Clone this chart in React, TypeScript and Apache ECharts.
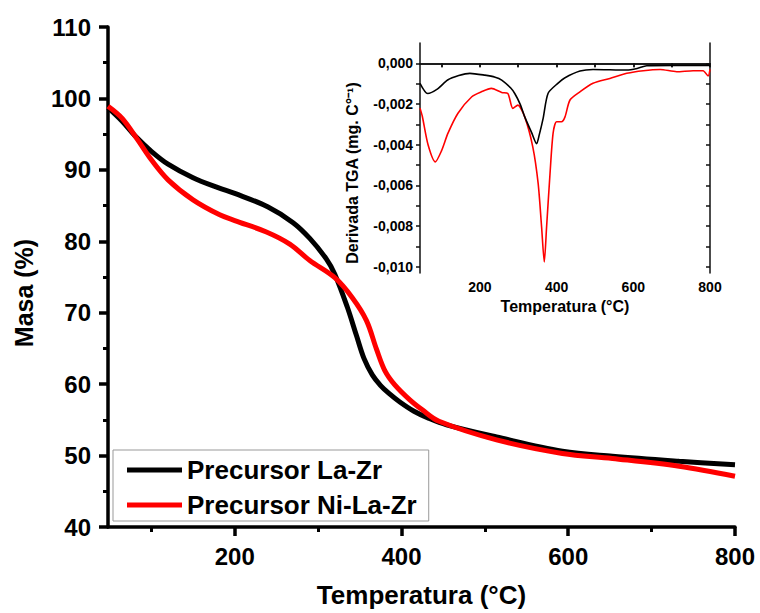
import React, { useEffect, useRef } from "react";
import * as echarts from "echarts";

// Main TGA curves
const laZrTemp = [48, 65, 80, 100, 120, 150, 180, 200, 240, 270, 290, 310, 320, 335, 346, 355, 365, 375, 385, 398, 415, 433, 454, 514, 593, 653, 733, 800];
const laZrMass = [98.7, 96.8, 94.8, 92.6, 90.8, 88.9, 87.5, 86.7, 84.8, 82.6, 80.4, 77.5, 75.4, 70.8, 66.8, 63.6, 61.3, 59.8, 58.7, 57.5, 56.2, 55.2, 54.3, 52.6, 50.6, 49.9, 49.2, 48.7];
const niLaZrTemp = [48, 65, 83, 100, 120, 150, 182, 200, 238, 266, 290, 320, 341, 358, 370, 380, 392, 410, 425, 445, 514, 593, 653, 733, 800];
const niLaZrMass = [98.9, 97.2, 94.3, 91.4, 88.6, 85.8, 83.7, 82.9, 81.3, 79.6, 77.3, 74.9, 72.1, 68.9, 64.9, 61.9, 59.9, 57.8, 56.4, 54.8, 52.2, 50.3, 49.6, 48.5, 47.1];

// Inset DTG curves
const dtgLaZrTemp = [44, 64, 90, 116, 145, 174, 213, 240, 257, 280, 291, 305, 317, 335, 348, 355, 365, 378, 404, 421, 461, 495, 583, 610, 635, 700, 800];
const dtgLaZrVal = [-0.00098, -0.00148, -0.00125, -0.00082, -0.0006, -0.00049, -0.00058, -0.00068, -0.00082, -0.0012, -0.00148, -0.002, -0.00263, -0.0034, -0.00395, -0.0035, -0.0027, -0.00147, -0.00097, -0.00072, -0.00038, -0.0003, -0.00033, -0.00025, -0.00012, -0.0001, -0.0001];
const dtgNiTemp = [44, 50, 65, 84, 100, 117, 143, 179, 204, 230, 257, 273, 286, 299, 317, 338, 352, 361, 368, 374, 383, 391, 400, 413, 422, 435, 461, 495, 539, 583, 626, 670, 713, 756, 782, 795, 800];
const dtgNiVal = [-0.0022, -0.0026, -0.004, -0.00484, -0.0043, -0.00343, -0.00245, -0.00164, -0.0014, -0.00123, -0.00143, -0.00148, -0.00221, -0.00205, -0.00263, -0.0041, -0.0059, -0.00804, -0.00976, -0.00804, -0.0054, -0.00343, -0.00287, -0.00287, -0.00263, -0.0018, -0.0014, -0.00098, -0.00074, -0.00049, -0.00036, -0.0003, -0.00041, -0.00036, -0.00036, -0.00062, -0.0003];

const mainXMajor = [200, 400, 600, 800];
const mainXMinor = [100, 300, 500, 700];
const insetXTicks = [100, 200, 300, 400, 500, 600, 700, 800];
const insetYLabels = [-0.01, -0.008, -0.006, -0.004, -0.002, 0];
const insetYTicks = [-0.01, -0.009, -0.008, -0.007, -0.006, -0.005, -0.004, -0.003, -0.002, -0.001, 0];

const seriesNames = ["Precursor La-Zr", "Precursor Ni-La-Zr"];

const FONT = "'Liberation Sans', Arial, sans-serif";

const zip = (a: number[], b: number[]) => a.map((v, i) => [v, b[i]]);

export default function App() {
  const ref = useRef<HTMLDivElement>(null);
  useEffect(() => {
    if (!ref.current) return;
    const chart = echarts.init(ref.current, undefined, { renderer: "svg" });
    const black = "#000000";
    const red = "#ff0000";
    const insetAxisLine = { show: true, lineStyle: { color: "#111", width: 1.5 } };
    chart.setOption({
      animation: false,
      backgroundColor: "#ffffff",
      grid: [
        { left: 108, right: 25, top: 27, bottom: 82, containLabel: false },
        { left: 420, right: 50, top: 43, bottom: 340, containLabel: false },
      ],
      legend: {
        data: seriesNames,
        orient: "vertical",
        left: 113,
        top: 450,
        padding: [6, 12, 2, 14],
        itemGap: 7,
        itemWidth: 55,
        itemHeight: 5,
        icon: "rect",
        borderColor: "#999",
        borderWidth: 1,
        backgroundColor: "#fff",
        textStyle: { fontFamily: FONT, fontWeight: "bold", fontSize: 26, color: "#000", lineHeight: 28 },
      },
      xAxis: [
        {
          type: "value", gridIndex: 0, position: "bottom", min: 48, max: 800,
          name: "Temperatura (°C)", nameLocation: "middle", nameGap: 55,
          nameTextStyle: { fontFamily: FONT, fontWeight: "bold", fontSize: 26, color: "#000" },
          axisLine: { show: true, lineStyle: { color: "#000", width: 3.5 } },
          axisTick: { show: true, length: 9, customValues: mainXMajor, lineStyle: { width: 3.5, color: "#000" } },
          axisLabel: { customValues: mainXMajor, margin: 17, fontFamily: FONT, fontWeight: "bold", fontSize: 24, color: "#000" },
          splitLine: { show: false },
        },
        {
          type: "value", gridIndex: 0, position: "bottom", min: 48, max: 800,
          axisLine: { show: false },
          axisTick: { show: true, length: 5, customValues: mainXMinor, lineStyle: { width: 3, color: "#000" } },
          axisLabel: { show: false },
          splitLine: { show: false },
        },
        {
          type: "value", gridIndex: 1, position: "bottom", min: 44, max: 800,
          name: "Temperatura (°C)", nameLocation: "middle", nameGap: 25,
          nameTextStyle: { fontFamily: FONT, fontWeight: "bold", fontSize: 16, color: "#000" },
          axisLine: insetAxisLine,
          axisTick: { show: true, length: 4, customValues: insetXTicks, lineStyle: { width: 1.5, color: "#111" } },
          axisLabel: { customValues: mainXMajor, margin: 7, fontFamily: FONT, fontWeight: "bold", fontSize: 14, color: "#000" },
          splitLine: { show: false },
        },
        {
          type: "value", gridIndex: 1, position: "top", min: 44, max: 800,
          axisLine: insetAxisLine,
          axisTick: { show: true, inside: true, length: 4, customValues: insetXTicks, lineStyle: { width: 1.5, color: "#111" } },
          axisLabel: { show: false },
          splitLine: { show: false },
        },
      ],
      yAxis: [
        {
          type: "value", gridIndex: 0, min: 40, max: 110, interval: 10,
          name: "Masa (%)", nameLocation: "middle", nameGap: 72,
          nameTextStyle: { fontFamily: FONT, fontWeight: "bold", fontSize: 25, color: "#000", padding: [0, 32, 0, 0] },
          axisLine: { show: true, lineStyle: { color: "#000", width: 3.5 } },
          axisTick: { show: true, length: 9, lineStyle: { width: 3.5, color: "#000" } },
          minorTick: { show: true, splitNumber: 2, length: 5, lineStyle: { width: 3, color: "#000" } },
          axisLabel: { margin: 17, fontFamily: FONT, fontWeight: "bold", fontSize: 24, color: "#000" },
          splitLine: { show: false },
        },
        {
          type: "value", gridIndex: 1, position: "left", min: -0.0103, max: 0.001,
          name: "Derivada TGA (mg. C°⁻¹)", nameLocation: "middle", nameGap: 60,
          nameTextStyle: { fontFamily: FONT, fontWeight: "bold", fontSize: 16, color: "#000", padding: [0, 30, 0, 0] },
          axisLine: insetAxisLine,
          axisTick: { show: true, length: 4, customValues: insetYTicks, lineStyle: { width: 1.5, color: "#111" } },
          axisLabel: {
            customValues: insetYLabels, margin: 7, fontFamily: FONT, fontWeight: "bold", fontSize: 14, color: "#000",
            formatter: (v: number) => v.toFixed(3).replace(".", ","),
          },
          splitLine: { show: false },
        },
        {
          type: "value", gridIndex: 1, position: "right", min: -0.0103, max: 0.001,
          axisLine: insetAxisLine,
          axisTick: { show: true, inside: true, length: 4, customValues: insetYTicks, lineStyle: { width: 1.5, color: "#111" } },
          axisLabel: { show: false },
          splitLine: { show: false },
        },
      ],
      series: [
        {
          name: seriesNames[0], type: "line", xAxisIndex: 0, yAxisIndex: 0,
          data: zip(laZrTemp, laZrMass), smooth: 0.35, showSymbol: false, symbol: "none",
          lineStyle: { color: black, width: 5 }, itemStyle: { color: black }, z: 3,
        },
        {
          name: seriesNames[1], type: "line", xAxisIndex: 0, yAxisIndex: 0,
          data: zip(niLaZrTemp, niLaZrMass), smooth: 0.35, showSymbol: false, symbol: "none",
          lineStyle: { color: red, width: 5 }, itemStyle: { color: red }, z: 4,
        },
        {
          name: "DTG La-Zr", type: "line", xAxisIndex: 2, yAxisIndex: 1,
          data: zip(dtgLaZrTemp, dtgLaZrVal), smooth: 0.25, showSymbol: false, symbol: "none",
          lineStyle: { color: black, width: 1.6 }, itemStyle: { color: black }, z: 3,
        },
        {
          name: "DTG Ni-La-Zr", type: "line", xAxisIndex: 2, yAxisIndex: 1,
          data: zip(dtgNiTemp, dtgNiVal), smooth: 0.25, showSymbol: false, symbol: "none",
          lineStyle: { color: red, width: 1.6 }, itemStyle: { color: red }, z: 2,
        },
      ],
    });
    return () => chart.dispose();
  }, []);
  return <div ref={ref} style={{ width: 760, height: 613, position: "absolute", left: 0, top: 0 }} />;
}
